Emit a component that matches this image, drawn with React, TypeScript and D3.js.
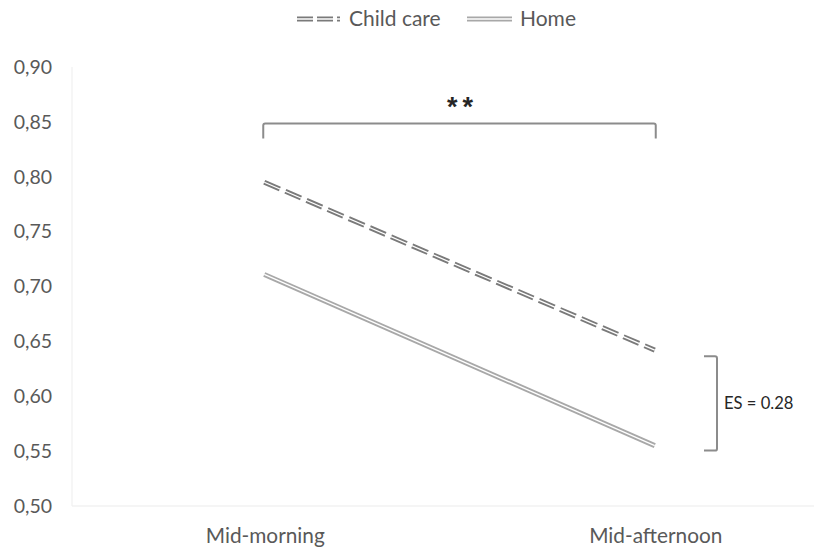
import React from "react";
import * as d3 from "d3";

const categories = ["Mid-morning", "Mid-afternoon"];
const childCare = [0.795, 0.642];
const home = [0.711, 0.555];
const yTicks = [0.5, 0.55, 0.6, 0.65, 0.7, 0.75, 0.8, 0.85, 0.9];
const seriesNames = ["Child care", "Home"];

const W = 814;
const H = 547;
const FONT = "Lato, 'Open Sans', 'Liberation Sans', sans-serif";

export default function App() {
  const x = d3.scaleBand<string>().domain(categories).range([72, 853]);
  const cx = (c: string) => (x(c) as number) + x.bandwidth() / 2 - 3;
  const y = d3.scaleLinear().domain([0.5, 0.9]).range([506, 67]);

  const line = d3
    .line<number>()
    .x((_, i) => cx(categories[i]))
    .y((d) => y(d));

  const fmt = (v: number) => d3.format(".2f")(v).replace(".", ",");

  const xL = cx(categories[0]);
  const xR = cx(categories[1]);
  const bracketY = y(0.8485);

  return (
    <svg width={W} height={H} style={{ position: "absolute", left: 0, top: 0, background: "#fff" }}>
      {/* axes */}
      <line x1={72} x2={W} y1={y(0.5)} y2={y(0.5)} stroke="#ececec" strokeWidth={1.2} />
      <line x1={72} x2={72} y1={y(0.9)} y2={y(0.5)} stroke="#f0f0f0" strokeWidth={1.2} />
      {yTicks.map((t) => (
        <text key={t} x={52} y={y(t)} dy="0.35em" textAnchor="end" fontFamily={FONT} fontSize={19.5} fill="#595959">
          {fmt(t)}
        </text>
      ))}
      {categories.map((c) => (
        <text key={c} x={cx(c) + 1} y={543} textAnchor="middle" fontFamily={FONT} fontSize={20.8} fill="#595959">
          {c}
        </text>
      ))}

      {/* Child care series: dashed double line */}
      <path d={line(childCare) || ""} fill="none" stroke="#7a7a7a" strokeWidth={5} strokeDasharray="17 6" />
      <path d={line(childCare) || ""} fill="none" stroke="#fff" strokeWidth={1.3} />
      {/* Home series: double line */}
      <path d={line(home) || ""} fill="none" stroke="#a8a8a8" strokeWidth={5} />
      <path d={line(home) || ""} fill="none" stroke="#fff" strokeWidth={1.3} />

      {/* significance bracket */}
      <path
        d={`M${xL - 1},${bracketY + 15} L${xL - 1},${bracketY + 2} Q${xL - 1},${bracketY} ${xL + 1},${bracketY} L${xR - 1},${bracketY} Q${xR + 1},${bracketY} ${xR + 1},${bracketY + 2} L${xR + 1},${bracketY + 15}`}
        fill="none"
        stroke="#8c8c8c"
        strokeWidth={2}
      />
      <text x={(xL + xR) / 2 + 3} y={116} textAnchor="middle" fontFamily="'Liberation Sans', Arial, sans-serif" fontSize={27} fontWeight="bold" fill="#262626" letterSpacing={5}>
        **
      </text>

      {/* ES bracket */}
      <path
        d={`M704,${y(0.6365)} L715,${y(0.6365)} Q717,${y(0.6365)} 717,${y(0.6345)} L717,${y(0.5525)} Q717,${y(0.5505)} 715,${y(0.5505)} L704,${y(0.5505)}`}
        fill="none"
        stroke="#8c8c8c"
        strokeWidth={2}
      />
      <text x={724} y={y(0.5935)} dy="0.35em" fontFamily={FONT} fontSize={16.6} fill="#262626">
        ES = 0.28
      </text>

      {/* legend */}
      <g>
        <line x1={297} x2={340} y1={19} y2={19} stroke="#7a7a7a" strokeWidth={5} strokeDasharray="16 4 16 4 3 10" />
        <line x1={297} x2={340} y1={19} y2={19} stroke="#fff" strokeWidth={1.3} />
        <text x={349} y={19} dy="0.35em" fontFamily={FONT} fontSize={21} fill="#595959">
          {seriesNames[0]}
        </text>
        <line x1={467} x2={512} y1={19} y2={19} stroke="#a8a8a8" strokeWidth={5} />
        <line x1={467} x2={512} y1={19} y2={19} stroke="#fff" strokeWidth={1.3} />
        <text x={520} y={19} dy="0.35em" fontFamily={FONT} fontSize={21} fill="#595959">
          {seriesNames[1]}
        </text>
      </g>
    </svg>
  );
}
